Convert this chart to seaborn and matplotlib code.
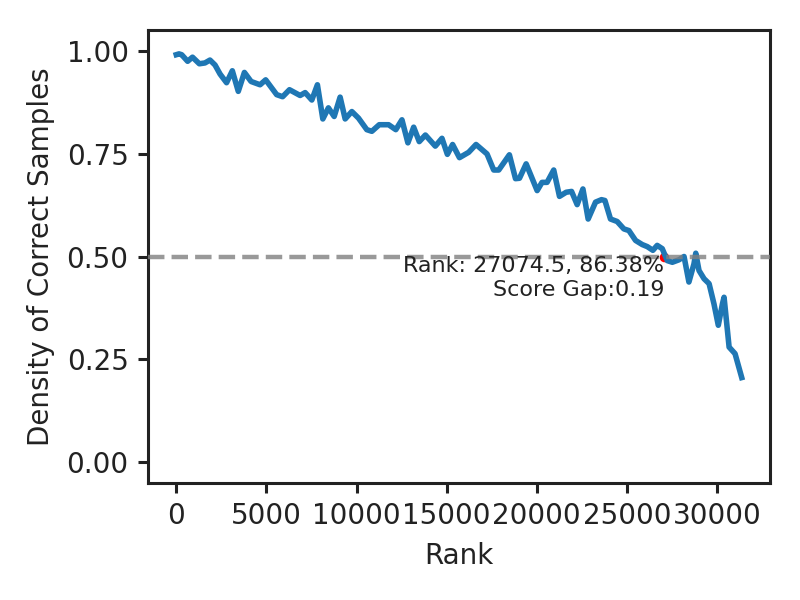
import matplotlib

matplotlib.use("Agg")
import matplotlib.pyplot as plt
import numpy as np
import pandas as pd
import seaborn as sns

# rank position of each smoothed sample
rank = [
    0, 150, 300, 630, 900, 1280, 1590, 1870, 2150, 2430, 2790, 3110, 3440,
    3780, 4150, 4650, 4960, 5570, 5900, 6280, 6870, 7150, 7520, 7830, 8130,
    8440, 8760, 9090, 9370, 9740, 10110, 10570, 10850, 11260, 11780, 12180,
    12520, 12850, 13170, 13480, 13820, 14370, 14740, 15040, 15330, 15710,
    16220, 16630, 17240, 17610, 17890, 18480, 18820, 19040, 19410, 20020,
    20290, 20570, 20940, 21260, 21630, 21930, 22240, 22560, 22850, 23260,
    23590, 23780, 24090, 24460, 24830, 25110, 25480, 25850, 26130, 26440,
    26680, 26960, 27240, 27520, 27890, 28170, 28440, 28720, 28820, 29000,
    29280, 29560, 29830, 30070, 30300, 30390, 30520, 30670, 31000, 31370,
]
density = [
    0.990, 0.992, 0.990, 0.974, 0.984, 0.968, 0.970, 0.977, 0.965, 0.943,
    0.922, 0.951, 0.901, 0.947, 0.925, 0.917, 0.929, 0.893, 0.888, 0.905,
    0.891, 0.898, 0.880, 0.917, 0.834, 0.861, 0.840, 0.887, 0.834, 0.852,
    0.836, 0.808, 0.804, 0.820, 0.820, 0.808, 0.832, 0.776, 0.814, 0.779,
    0.795, 0.768, 0.787, 0.748, 0.772, 0.740, 0.753, 0.772, 0.749, 0.710,
    0.710, 0.747, 0.689, 0.690, 0.725, 0.660, 0.680, 0.680, 0.710, 0.646,
    0.656, 0.658, 0.626, 0.664, 0.591, 0.632, 0.638, 0.636, 0.591, 0.585,
    0.567, 0.563, 0.539, 0.529, 0.524, 0.515, 0.527, 0.519, 0.490, 0.486,
    0.492, 0.500, 0.438, 0.482, 0.508, 0.466, 0.446, 0.434, 0.385, 0.333,
    0.385, 0.401, 0.345, 0.280, 0.264, 0.206,
]

cross_rank = 27074.5
cross_pct = 86.38
score_gap = 0.19
threshold = 0.5

df = pd.DataFrame({"Rank": rank, "Density": density})

plt.rcParams.update({
    "axes.linewidth": 1.1,
    "axes.edgecolor": "#222222",
    "xtick.major.width": 1.1,
    "ytick.major.width": 1.1,
    "xtick.color": "#222222",
    "ytick.color": "#222222",
    "text.color": "#222222",
    "axes.labelcolor": "#222222",
})

fig, ax = plt.subplots(figsize=(4, 3), dpi=200)

# crossing point (mostly hidden under the curves)
ax.scatter([cross_rank], [threshold], color="red", s=6, zorder=1)
sns.lineplot(data=df, x="Rank", y="Density", ax=ax, color="#1f77b4",
             linewidth=2.0, zorder=2)
ax.axhline(threshold, color="gray", linestyle="--", linewidth=1.6, alpha=0.8,
           zorder=3)
ax.text(cross_rank, threshold,
        f"Rank: {cross_rank}, {cross_pct:.2f}%\nScore Gap:{score_gap:.2f}",
        ha="right", va="top", fontsize=8, zorder=4)

ax.set_ylim(-0.05, 1.05)
ax.set_yticks([0.0, 0.25, 0.5, 0.75, 1.0])
ax.set_xticks([0, 5000, 10000, 15000, 20000, 25000, 30000])
ax.set_xlabel("Rank")
ax.set_ylabel("Density of Correct Samples")

fig.subplots_adjust(left=0.185, right=0.9625, top=0.95, bottom=0.195)
fig.savefig("out.png", dpi=200)
